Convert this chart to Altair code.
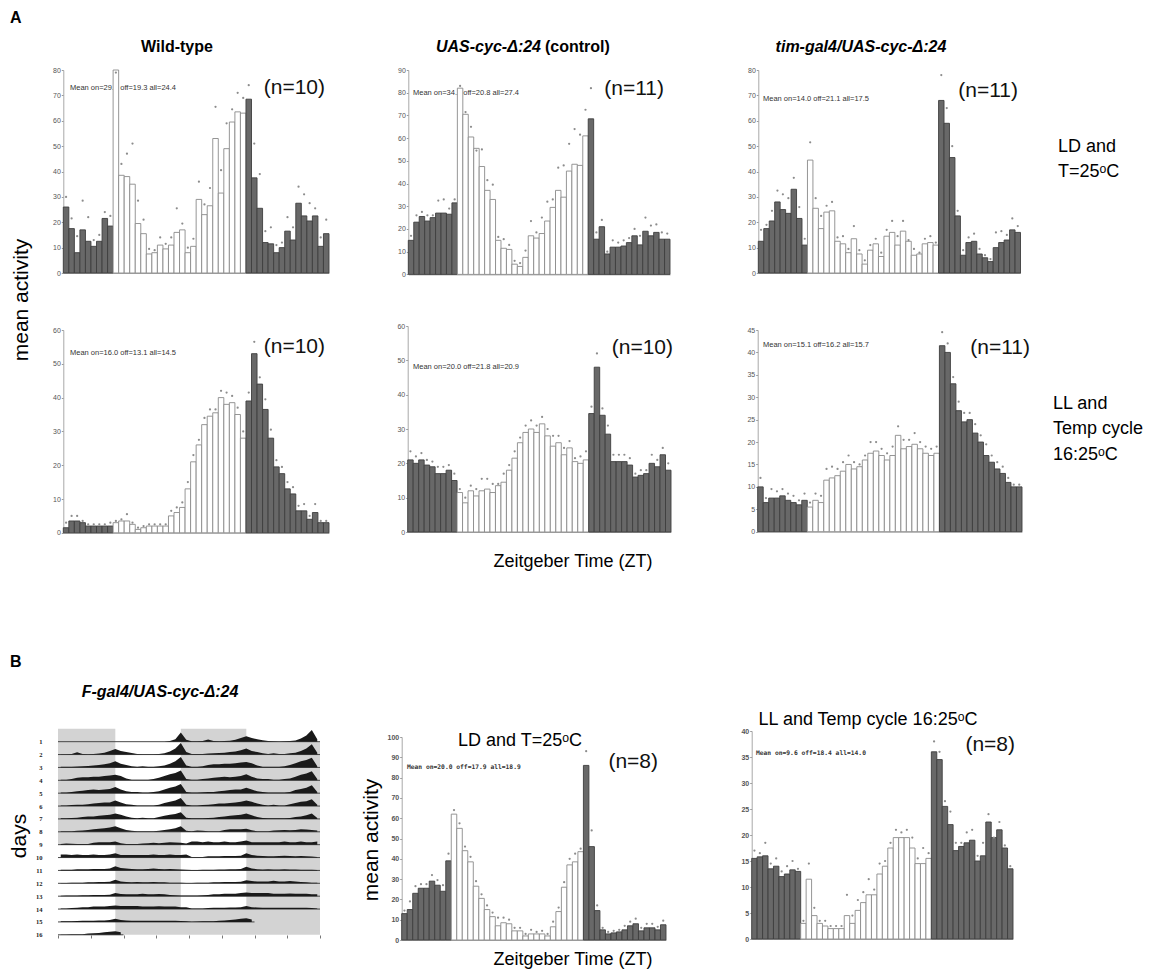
import altair as alt
import numpy as np
import pandas as pd

W, H = 1161, 978
FONT = "Liberation Sans"

# ---------------- light / dark phase of the 48 half-hour bins ----------------
n_dark_start, n_light, n_dark_end = 9, 24, 15
phase = ["dark"] * n_dark_start + ["light"] * n_light + ["dark"] * n_dark_end

# ---------------- A : LD and T=25C ----------------
wt_ld = [26, 17.5, 8, 17, 12.5, 10.5, 12.5, 21.5, 18.5,
         80, 38.5, 38, 35, 19.5, 15.5, 7.5, 8, 11, 9.5, 11, 16, 17, 8, 10.5, 29, 23, 26.5, 53, 31.5, 49, 59.5, 63.5, 63,
         68.5, 37.5, 25.5, 12, 11.5, 8, 10, 16.5, 13, 27.5, 22.5, 20.5, 22.5, 10.5, 15.5]
wt_ld_err = [30, 21.5, 14.5, 28.5, 22, 13, 15, 24, 22.5,
             79, 43, 47, 51, 28.5, 21, 9.5, 9, 14, 11.5, 14, 25.5, 19.5, 10, 13.5, 36, 27, 33.5, 65.5, 40.5, 59, 64.5, 71, 69,
             74, 51, 39, 16.5, 18, 11, 12, 22, 18, 34, 31, 27.5, 25.5, 14, 21]

ctl_ld = [15, 23, 25.5, 23.5, 25, 27, 27, 26.5, 31.5,
          82, 70.5, 60.5, 55.5, 47.5, 37, 33, 15, 11.5, 11, 4.5, 3.5, 7.5, 17, 16, 18, 23.5, 29.5, 37, 34, 45.5, 48.5, 48, 61,
          68.5, 15.5, 21, 9, 12, 12, 12.5, 14, 17, 13, 19, 17, 18.5, 15.5, 15.5]
ctl_ld_err = [17, 26, 27.5, 26, 26, 32.5, 33, 29, 33,
              83, 71.5, 65, 54.5, 55, 41.5, 39.5, 16.5, 15.5, 13, 6, 5, 10.5, 23.5, 18.5, 25, 32, 33, 47, 48, 57.5, 64, 61.5, 72.5,
              82, 18.5, 24, 10, 15, 14, 15, 16, 20, 17, 25, 21.5, 22, 18.5, 18]

tim_ld = [12.5, 17.5, 20.5, 28, 25, 23.5, 33, 21.5, 11,
          44.5, 25.5, 17.5, 24, 24.5, 12.5, 11.5, 8, 13.5, 7.5, 3.5, 9, 11.5, 6.5, 14.5, 16, 11, 16.5, 12.5, 7, 7.5, 11.5, 12, 11,
          68, 59, 45.5, 22.5, 7, 12, 12.5, 7.5, 6, 4.5, 10, 12, 13, 17, 16]
tim_ld_err = [17, 19, 24.5, 32.5, 31, 29.5, 37.5, 26, 13.5,
              51.5, 29.5, 22.5, 26.5, 28, 14, 14.5, 9.5, 18.5, 9, 5, 11, 13.5, 8, 17, 20.5, 14.5, 20.5, 13, 9.5, 8, 13.5, 14.5, 12,
              78, 65, 50, 24.5, 9, 14, 15.5, 9.5, 7, 5.5, 16, 16.5, 15, 21.5, 18.5]

# ---------------- A : LL and temperature cycle 16:25C ----------------
wt_ll = [1.5, 3.5, 3.5, 3, 2, 2, 2, 2, 2,
         3, 3.5, 3.5, 2.5, 1, 1.5, 2, 2, 2, 2, 5, 6, 7.5, 13, 21, 26, 32, 34.5, 35.5, 40, 38, 38.5, 35, 28,
         39, 53, 44, 36.5, 28, 19.5, 17.5, 13, 11.5, 6.5, 6.5, 4, 6, 3, 3]
wt_ll_err = [3, 5, 5, 3.5, 2.5, 2.5, 2.5, 2.5, 3,
             3.5, 4, 5.5, 3, 1.5, 2, 2.5, 2.5, 2.5, 2.5, 6.5, 7.5, 9, 15, 23, 27.5, 34, 36.5, 36.5, 42, 41.5, 40.5, 37, 30,
             41.5, 56.5, 46, 39.5, 30.5, 21.5, 19.5, 15, 13.5, 8, 8.5, 5, 8.5, 3.5, 3.5]

ctl_ll = [21, 20, 21, 19.5, 19, 17, 17, 18, 15,
          11.5, 8.5, 12, 10.5, 12, 12.5, 11.5, 13.5, 14.5, 18, 21.5, 26, 29, 30, 29, 31.5, 28, 25, 26, 22.5, 24.5, 20.5, 20, 21,
          34.5, 48, 34, 28.5, 20.5, 20.5, 20.5, 19.5, 16, 16.5, 17, 20, 19, 22.5, 18]
ctl_ll_err = [23.5, 22, 23, 21, 20.5, 19, 19, 19.5, 17,
              12.5, 10, 13.5, 12.5, 15.5, 15.5, 14, 14, 17, 19.5, 23.5, 27.5, 31, 32.5, 31, 33.5, 30, 28, 28, 24.5, 26.5, 21.5, 22, 23.5,
              36.5, 52, 36, 31, 22.5, 22.5, 22.5, 21.5, 17, 18, 18, 22.5, 21, 24.5, 20]

tim_ll = [10, 6.5, 7.5, 7.5, 8, 7, 6.5, 6, 7,
          5.5, 7, 6.5, 11.5, 12, 12.5, 13.5, 15, 14, 14.5, 16, 17.5, 18, 17, 16, 17, 21.5, 18.5, 19, 19.5, 18.5, 17.5, 17, 17.5,
          41.5, 40, 33, 27, 24.5, 25, 22, 20, 17, 15.5, 14, 13, 11, 10, 10]
tim_ll_err = [12, 7.5, 9.5, 9, 9.5, 8.5, 8, 7, 8.5,
              6.5, 8.5, 8, 14, 14.5, 14, 15.5, 17, 15.5, 15, 17, 20, 20, 18.5, 17.5, 19, 23.5, 20.5, 20.5, 22, 20, 19, 18.5, 19,
              44.5, 42, 34.5, 29, 26.5, 26.5, 24, 21.5, 19.5, 17, 15.5, 14.5, 12, 10.5, 10.5]

# ---------------- B : F-gal4/UAS-cyc-D:24 ----------------
f_ld = [13, 15, 23, 25.5, 25.5, 29, 27, 24, 39,
        62, 55, 44, 38.5, 26.5, 20.5, 15, 11.5, 7, 8.5, 8, 4.5, 4.5, 2, 3, 3, 3, 2, 6.5, 14, 26, 37, 38.5, 43.5,
        86, 46, 14.5, 5, 3, 3.5, 4, 5, 7, 8, 4.5, 6, 6, 5, 7.5]
f_ld_err = [14.5, 19, 26.5, 27.5, 27.5, 32, 29.5, 27, 42.5,
            64, 57.5, 46, 41, 29, 22.5, 17, 13.5, 11, 11, 10, 6, 6, 3, 5, 4, 4.5, 3, 9, 16, 28.5, 40, 42.5, 45,
            93, 54, 17, 6, 4, 4.5, 5, 7, 9, 10.5, 6, 8, 8, 6.5, 9.5]

f_ll = [15.5, 15.8, 16, 13.5, 14, 12, 12.5, 13.3, 13,
        3, 11.5, 4.5, 3, 2.5, 2, 2, 2, 4.5, 3, 5.5, 7, 8.5, 8.5, 12.5, 14, 17.5, 19.5, 19.5, 19.5, 17.5, 14.5, 14.5, 15.5,
        36, 34.5, 25.5, 22, 17, 17.8, 18.5, 19, 15, 16, 22.5, 19.5, 21, 17.5, 13.5]
f_ll_err = [17, 16.5, 18.5, 14.5, 15.5, 13, 14, 15, 13.5,
            3.5, 14.5, 6, 3.5, 3.5, 2.5, 2.5, 2.5, 8.5, 4.5, 7.5, 9, 11.5, 9.5, 14.5, 15, 18.5, 21, 20.5, 21, 19.5, 15.5, 17.5, 16.5,
            38, 36, 26.5, 24.5, 18.5, 18.5, 20.5, 21, 16, 18.5, 24, 19.5, 22.5, 18, 14]

# ---------------- actogram: activity per day (hourly, fraction of row height) ----------------
day01 = [0, 0, 0, 0, 0, 0, 0, 0, 0, 0, 0, 0, 0, 0, 0, 0, 0, 0, 0, 0, 0.05, 0.2, 0.75, 0.15]
day02 = [0.03, 0.03, 0.05, 0.18, 0.05, 0.03, 0.05, 0.08, 0.15, 0.3, 0.45, 0.3, 0.2, 0.12, 0.05, 0.03, 0.02, 0.03, 0.05, 0.1, 0.25, 0.5, 0.95, 0.2]
day03 = [0.05, 0.05, 0.05, 0.08, 0.1, 0.12, 0.15, 0.2, 0.25, 0.35, 0.5, 0.3, 0.2, 0.1, 0.05, 0.1, 0.05, 0.05, 0.1, 0.15, 0.3, 0.5, 0.85, 0.15]
day04 = [0.05, 0.05, 0.1, 0.2, 0.25, 0.25, 0.3, 0.3, 0.35, 0.4, 0.45, 0.35, 0.15, 0.05, 0.05, 0.05, 0.05, 0.1, 0.2, 0.35, 0.5, 0.6, 0.8, 0.1]
day05 = [0.05, 0.05, 0.1, 0.15, 0.2, 0.25, 0.3, 0.25, 0.3, 0.35, 0.5, 0.3, 0.15, 0.1, 0.1, 0.05, 0.05, 0.1, 0.15, 0.3, 0.45, 0.55, 0.75, 0.1]
day06 = [0.05, 0.05, 0.08, 0.1, 0.1, 0.15, 0.2, 0.25, 0.3, 0.3, 0.45, 0.3, 0.15, 0.1, 0.05, 0.05, 0.05, 0.05, 0.1, 0.25, 0.35, 0.45, 0.65, 0.1]
day07 = [0.05, 0.05, 0.08, 0.1, 0.15, 0.2, 0.2, 0.25, 0.3, 0.35, 0.45, 0.35, 0.2, 0.1, 0.05, 0.1, 0.05, 0.05, 0.15, 0.25, 0.35, 0.4, 0.55, 0.1]
day08 = [0.05, 0.05, 0.05, 0.08, 0.1, 0.15, 0.2, 0.25, 0.3, 0.35, 0.45, 0.3, 0.15, 0.08, 0.05, 0.05, 0.05, 0.05, 0.08, 0.15, 0.2, 0.3, 0.45, 0.08]
day09 = [0.05, 0.1, 0.08, 0.05, 0.05, 0.05, 0.15, 0.2, 0.2, 0.2, 0.25, 0.12, 0.05, 0.05, 0.05, 0.1, 0.12, 0.15, 0.12, 0.15, 0.2, 0.18, 0.15, 0.1]
day10 = [0.25, 0.25, 0.2, 0.25, 0.2, 0.2, 0.25, 0.2, 0.2, 0.25, 0.35, 0.2, 0.2, 0.2, 0.2, 0.2, 0.2, 0.25, 0.2, 0.2, 0.25, 0.2, 0.2, 0.25]
day11 = [0.05, 0.05, 0.05, 0.1, 0.1, 0.1, 0.12, 0.12, 0.12, 0.15, 0.35, 0.2, 0.15, 0.12, 0.1, 0.1, 0.12, 0.15, 0.12, 0.1, 0.12, 0.1, 0.08, 0.05]
day12 = [0.03, 0.03, 0.05, 0.05, 0.05, 0.08, 0.08, 0.1, 0.1, 0.12, 0.3, 0.15, 0.1, 0.08, 0.1, 0.08, 0.08, 0.1, 0.08, 0.08, 0.05, 0.05, 0.05, 0.03]
day13 = [0.03, 0.05, 0.05, 0.05, 0.08, 0.08, 0.1, 0.1, 0.1, 0.12, 0.25, 0.18, 0.15, 0.15, 0.15, 0.2, 0.15, 0.15, 0.18, 0.15, 0.1, 0.08, 0.05, 0.05]
day14 = [0.05, 0.05, 0.08, 0.1, 0.15, 0.15, 0.2, 0.2, 0.2, 0.25, 0.3, 0.25, 0.25, 0.25, 0.25, 0.2, 0.2, 0.2, 0.22, 0.2, 0.2, 0.2, 0.15, 0.15]
day15 = [0.05, 0.05, 0.05, 0.08, 0.1, 0.1, 0.1, 0.12, 0.12, 0.15, 0.25, 0.15, 0.12, 0.1, 0.1, 0.1, 0.1, 0.1, 0.1, 0.1, 0.1, 0.1, 0.08, 0.05]
day16 = [0.02, 0.03, 0.05, 0.05, 0.05, 0.1, 0.12, 0.15, 0.2, 0.25, 0.3, 0.2,
         None, None, None, None, None, None, None, None, None, None, None, None]
days = [day01, day02, day03, day04, day05, day06, day07, day08,
        day09, day10, day11, day12, day13, day14, day15, day16]

# grey (dark / cold) phases of each double-plotted row, in hours 0-48
shade_row = [1, 1, 2, 2, 3, 3, 4, 4, 5, 5, 6, 6, 7, 7, 8, 8, 9, 9,
             10, 10, 11, 11, 12, 12, 13, 13, 14, 14, 15, 16]
shade_start = [0, 22.5, 0, 22.5, 0, 22.5, 0, 22.5, 0, 22.5, 0, 22.5, 0, 22.5, 0, 22.5, 0, 34.5,
               10.5, 34.5, 10.5, 34.5, 10.5, 34.5, 10.5, 34.5, 10.5, 34.5, 10.5, 10.5]
shade_end = [10.5, 34.5, 10.5, 48, 10.5, 48, 10.5, 48, 10.5, 48, 10.5, 48, 10.5, 48, 10.5, 48, 22.5, 48,
             22.5, 48, 22.5, 48, 22.5, 48, 22.5, 48, 22.5, 48, 48, 48]


# ============================================================================
def bar_panel(vals, errs, ymax, ystep, xr, yr, mean_txt, mean_xy, n_txt, n_xy, mono=False):
    idx = np.arange(len(vals))
    df = pd.DataFrame({"x0": idx, "x1": idx + 1, "xc": idx + 0.5,
                       "v": vals, "d": errs, "phase": phase})
    xs = alt.Scale(domain=[0, 48], range=list(xr), nice=False, zero=False)
    ys = alt.Scale(domain=[0, ymax], range=list(yr), nice=False, clamp=True)
    xaxis = alt.Axis(orient="bottom", offset=yr[0] - H, labels=False, ticks=False,
                     grid=False, title=None, domainColor="#a8a8a8", domainWidth=1)
    yaxis = alt.Axis(orient="left", offset=-xr[0], values=list(range(0, ymax + 1, ystep)),
                     grid=False, title=None, tickSize=2, tickColor="#9a9a9a",
                     domainColor="#a8a8a8", labelFontSize=7, labelColor="#555555",
                     labelFont=FONT, labelPadding=1,
                     labelFontWeight="bold" if mono else "normal")
    base = alt.Chart(df)
    bars = base.mark_rect(strokeWidth=0.9).encode(
        x=alt.X("x0:Q", scale=xs, axis=xaxis), x2="x1:Q",
        y=alt.Y("v:Q", scale=ys, axis=yaxis), y2=alt.datum(0),
        fill=alt.Fill("phase:N", scale=alt.Scale(domain=["dark", "light"],
                                                   range=["#686868", "#ffffff"]), legend=None),
        stroke=alt.Stroke("phase:N", scale=alt.Scale(domain=["dark", "light"],
                                                       range=["#3e3e3e", "#8a8a8a"]), legend=None),
    )
    dots = base.mark_circle(size=5, color="#8c8c8c", opacity=1).encode(
        x=alt.X("xc:Q", scale=xs, axis=xaxis),
        y=alt.Y("d:Q", scale=ys, axis=yaxis),
    )
    mtxt = alt.Chart(pd.DataFrame({"t": [mean_txt]})).mark_text(
        align="left", baseline="middle",
        fontSize=6.3 if mono else 7.5,
        font="DejaVu Sans Mono" if mono else FONT,
        fontWeight="bold" if mono else "normal",
        color="#333333").encode(x=alt.value(mean_xy[0]), y=alt.value(mean_xy[1]), text="t:N")
    ntxt = alt.Chart(pd.DataFrame({"t": [n_txt]})).mark_text(
        align="right", baseline="middle", fontSize=21, font=FONT, color="#111111"
    ).encode(x=alt.value(n_xy[0]), y=alt.value(n_xy[1]), text="t:N")
    return alt.layer(mtxt, bars, dots, ntxt)


panels = [
    bar_panel(wt_ld, wt_ld_err, 80, 10, (63.3, 329), (273, 70),
              "Mean on=29.6 off=19.3 all=24.4", (70, 88), "(n=10)", (325, 88)),
    bar_panel(ctl_ld, ctl_ld_err, 90, 10, (408.3, 670), (274.4, 70),
              "Mean on=34.1 off=20.8 all=27.4", (413, 93), "(n=11)", (664, 89)),
    bar_panel(tim_ld, tim_ld_err, 80, 10, (758.3, 1020.5), (273, 70),
              "Mean on=14.0 off=21.1 all=17.5", (763, 99), "(n=11)", (1018, 91)),
    bar_panel(wt_ll, wt_ll_err, 60, 10, (63.3, 329), (532.8, 330),
              "Mean on=16.0 off=13.1 all=14.5", (70, 353), "(n=10)", (325, 347)),
    bar_panel(ctl_ll, ctl_ll_err, 60, 10, (407.7, 671), (532, 326),
              "Mean on=20.0 off=21.8 all=20.9", (413, 367), "(n=10)", (673, 348)),
    bar_panel(tim_ll, tim_ll_err, 45, 5, (757.7, 1022), (531.7, 330),
              "Mean on=15.1 off=16.2 all=15.7", (763, 345), "(n=11)", (1030, 348)),
    bar_panel(f_ld, f_ld_err, 100, 10, (401.7, 666), (940, 737),
              "Mean on=20.0 off=17.9 all=18.9", (407, 767), "(n=8)", (658, 762), mono=True),
    bar_panel(f_ll, f_ll_err, 40, 5, (751.7, 1013), (939, 731),
              "Mean on=9.6 off=18.4 all=14.0", (756, 753), "(n=8)", (1015, 745), mono=True),
]

# ---------------- actogram ----------------
n_rows = 16
recs, base_recs = [], []
for r in range(1, n_rows + 1):
    left = days[r - 1]
    right = days[r] if r < len(days) else [None] * 24
    seq = list(left) + list(right)
    last = 0
    for h, v in enumerate(seq):
        if v is not None:
            recs.append({"row": r, "h": h + 0.5, "top": r - 0.95 * v, "base": r})
            last = h + 1
    base_recs.append({"row": r, "a": 0, "b": last})
act_df = pd.DataFrame(recs)
base_df = pd.DataFrame(base_recs)
shade_df = pd.DataFrame({"row": shade_row, "s": shade_start, "e": shade_end})
shade_df["r0"] = shade_df["row"] - 1

axs = alt.Scale(domain=[0, 48], range=[58, 320], nice=False, zero=False)
ays = alt.Scale(domain=[0, 16], range=[728.8, 934.8], nice=False, zero=False)
act_xaxis = alt.Axis(orient="bottom", offset=935 - H, values=list(range(0, 49, 6)),
                     labels=False, tickSize=3, tickColor="#777777", domain=False,
                     grid=False, title=None)
act_yaxis = alt.Axis(orient="left", offset=-44, values=list(range(1, 17)), labels=True,
                     ticks=False, domain=False, grid=False, title=None,
                     labelFontSize=6.5, labelFontWeight="bold", labelFont="Liberation Serif",
                     labelColor="#222222", labelPadding=2)

shade = alt.Chart(shade_df).mark_rect(color="#d3d3d3").encode(
    x=alt.X("s:Q", scale=axs, axis=act_xaxis), x2="e:Q",
    y=alt.Y("r0:Q", scale=ays, axis=act_yaxis), y2="row:Q")
baselines = alt.Chart(base_df).mark_rule(color="#333333", strokeWidth=0.9).encode(
    x=alt.X("a:Q", scale=axs, axis=act_xaxis), x2="b:Q",
    y=alt.Y("row:Q", scale=ays, axis=act_yaxis))
areas = alt.Chart(act_df).mark_area(color="#1a1a1a", interpolate="linear").encode(
    x=alt.X("h:Q", scale=axs, axis=act_xaxis),
    y=alt.Y("top:Q", scale=ays, axis=act_yaxis), y2="base:Q",
    detail="row:N")
actogram = alt.layer(shade, baselines, areas)


# ---------------- text annotations ----------------
def label(text, x, y, size=18, weight="normal", style="normal", align="left", angle=0,
          font=FONT):
    return alt.Chart(pd.DataFrame({"t": [text]})).mark_text(
        align=align, baseline="middle", fontSize=size, fontWeight=weight,
        fontStyle=style, font=font, angle=angle, color="black"
    ).encode(x=alt.value(x), y=alt.value(y), text="t:N")


labels = [
    label("A", 10, 18, 16, "bold"),
    label("Wild-type", 177, 47, 16, "bold", align="center"),
    label("UAS-cyc-Δ:24", 541, 47, 16, "bold", "italic", align="right"),
    label("(control)", 545, 47, 16, "bold"),
    label("tim-gal4/UAS-cyc-Δ:24", 861, 47, 16, "bold", "italic", align="center"),
    label("LD and", 1058, 147),
    label("T=25ᵒC", 1058, 172),
    label("LL and", 1053, 404),
    label("Temp cycle", 1053, 429),
    label("16:25ᵒC", 1053, 455),
    label("mean activity", 22, 300, 21, align="center", angle=270),
    label("Zeitgeber Time (ZT)", 573, 562, align="center"),
    label("B", 10, 662, 16, "bold"),
    label("F-gal4/UAS-cyc-Δ:24", 160, 692, 16, "bold", "italic", align="center"),
    label("days", 20, 836, 21, align="center", angle=270),
    label("LD and T=25ᵒC", 520, 741, align="center"),
    label("LL and Temp cycle 16:25ᵒC", 868, 720, align="center"),
    label("mean activity", 372, 840, 21, align="center", angle=270),
    label("Zeitgeber Time (ZT)", 573, 960, align="center"),
]

chart = alt.layer(*panels, actogram, *labels).resolve_scale(
    x="independent", y="independent"
).properties(
    width=W, height=H, padding=0, autosize=alt.AutoSizeParams(type="none"),
    background="white"
).configure_view(stroke=None)

chart.save("out.html", embed_options={"renderer": "svg", "actions": False})
